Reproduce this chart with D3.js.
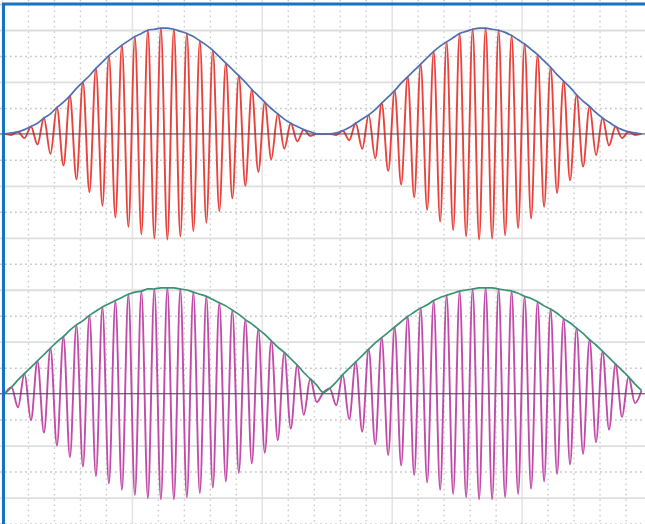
<!DOCTYPE html>
<html>
<head>
<meta charset="utf-8">
<script src="https://cdn.jsdelivr.net/npm/d3@7"></script>
<style>
body { margin: 0; background: #fff; }
svg { display: block; }
</style>
</head>
<body>
<svg id="scope" width="645" height="524"></svg>
<script>
// sampling of the traces, in grid divisions (one sample per carrier half-cycle)
const startDiv = 0.115;
const halfCycleDiv = 0.25;

// top trace: AM carrier, extrema (1 = envelope peak)
const topSignal = [
  0.00, -0.01, 0.02, -0.04, 0.07, -0.10, 0.15, -0.19, 0.25, -0.30,
  0.36, -0.43, 0.49, -0.55, 0.62, -0.68, 0.74, -0.79, 0.84, -0.88,
  0.92, -0.95, 0.98, -0.99, 1.00, -1.00, 0.99, -0.97, 0.95, -0.92,
  0.88, -0.84, 0.79, -0.73, 0.67, -0.61, 0.55, -0.49, 0.42, -0.36,
  0.30, -0.24, 0.19, -0.14, 0.10, -0.07, 0.04, -0.02, 0.00, 0.00,
  0.00, -0.01, 0.03, -0.06, 0.10, -0.14, 0.18, -0.23, 0.29, -0.35,
  0.41, -0.48, 0.54, -0.60, 0.66, -0.72, 0.78, -0.83, 0.87, -0.91,
  0.95, -0.97, 0.99, -1.00, 1.00, -0.99, 0.98, -0.96, 0.93, -0.89,
  0.85, -0.80, 0.75, -0.69, 0.63, -0.56, 0.50, -0.44, 0.37, -0.31,
  0.26, -0.20, 0.15, -0.11, 0.07, -0.04, 0.02, -0.01, 0.00
];

// bottom trace: suppressed carrier, phase flips where the envelope hits zero
const bottomSignal = [
  0.00, 0.06, -0.13, 0.19, -0.25, 0.31, -0.37, 0.43, -0.49, 0.54,
  -0.60, 0.65, -0.69, 0.74, -0.78, 0.82, -0.85, 0.88, -0.91, 0.94,
  -0.96, 0.97, -0.99, 0.99, -1.00, 1.00, -1.00, 0.99, -0.98, 0.96,
  -0.94, 0.92, -0.89, 0.86, -0.83, 0.79, -0.75, 0.70, -0.66, 0.61,
  -0.56, 0.50, -0.44, 0.39, -0.33, 0.27, -0.20, 0.14, -0.08, 0.01,
  0.05, -0.11, 0.18, -0.24, 0.30, -0.36, 0.42, -0.48, 0.53, -0.58,
  0.63, -0.68, 0.73, -0.77, 0.81, -0.84, 0.88, -0.91, 0.93, -0.95,
  0.97, -0.98, 0.99, -1.00, 1.00, -1.00, 0.99, -0.98, 0.97, -0.95,
  0.92, -0.90, 0.87, -0.83, 0.80, -0.76, 0.71, -0.67, 0.62, -0.57,
  0.51, -0.46, 0.40, -0.34, 0.28, -0.22, 0.16, -0.09, 0.03
];

// grid divisions
const xDivs = d3.range(0, 25);
const yDivs = d3.range(-15, 6);
const traceAmp = 4.07;      // envelope peak, in divisions
const topCentre = 0;
const bottomCentre = -10;

const W = 645, H = 524;
const svg = d3.select("#scope");

const x = d3.scaleLinear().domain([0, 24]).range([2, 2 + 24 * 25.98]);
const y = d3.scaleLinear().domain([-15, 5]).range([523.5, 4]);

// vertical grid
const gx = svg.append("g")
  .call(d3.axisBottom(x).tickValues(xDivs).tickSize(H).tickFormat(""));
gx.select(".domain").remove();
gx.selectAll(".tick line")
  .attr("stroke", d => d % 5 === 0 ? "#e4e4e4" : "#cccccc")
  .attr("stroke-width", d => d % 5 === 0 ? 1.6 : 1.4)
  .attr("stroke-dasharray", d => d % 5 === 0 ? null : "1.6,3.6");

// horizontal grid
const gy = svg.append("g")
  .call(d3.axisRight(y).tickValues(yDivs).tickSize(W).tickFormat(""));
gy.select(".domain").remove();
gy.selectAll(".tick line")
  .attr("stroke", d => d % 2 === 0 ? "#dedede" : "#c6c6c6")
  .attr("stroke-width", d => d % 2 === 0 ? 1.8 : 1.5)
  .attr("stroke-dasharray", d => d % 2 === 0 ? null : "1.8,3.2");

const t = i => startDiv + i * halfCycleDiv;

function drawTrace(values, centre, carrierColour, envColour) {
  const yT = d3.scaleLinear()
    .domain([-1, 1])
    .range([y(centre - traceAmp), y(centre + traceAmp)]);

  const carrier = d3.line()
    .x((d, i) => x(t(i)))
    .y(d => yT(d))
    .curve(d3.curveMonotoneX);

  const envelope = d3.line()
    .x((d, i) => x(t(i)))
    .y(d => yT(d))
    .curve(d3.curveCatmullRom);

  svg.append("path")
    .datum(values)
    .attr("d", carrier)
    .attr("fill", "none")
    .attr("stroke", carrierColour)
    .attr("stroke-width", 1.9)
    .attr("stroke-linejoin", "round");

  // zero line of the trace
  svg.append("line")
    .attr("x1", 0).attr("x2", W)
    .attr("y1", yT(0)).attr("y2", yT(0))
    .attr("stroke", "#3a3a4e")
    .attr("stroke-width", 1)
    .attr("opacity", 0.8);

  svg.append("path")
    .datum(values.map(Math.abs))
    .attr("d", envelope)
    .attr("fill", "none")
    .attr("stroke", envColour)
    .attr("stroke-width", 1.7);
}

drawTrace(topSignal, topCentre, "#e8423c", "#4f6fb2");
drawTrace(bottomSignal, bottomCentre, "#c24aa8", "#3b9271");

// frame (top and left edges)
svg.append("path")
  .attr("d", `M3.5,${H} V4 H${W}`)
  .attr("fill", "none")
  .attr("stroke", "#1872c4")
  .attr("stroke-width", 3);
</script>
</body>
</html>
